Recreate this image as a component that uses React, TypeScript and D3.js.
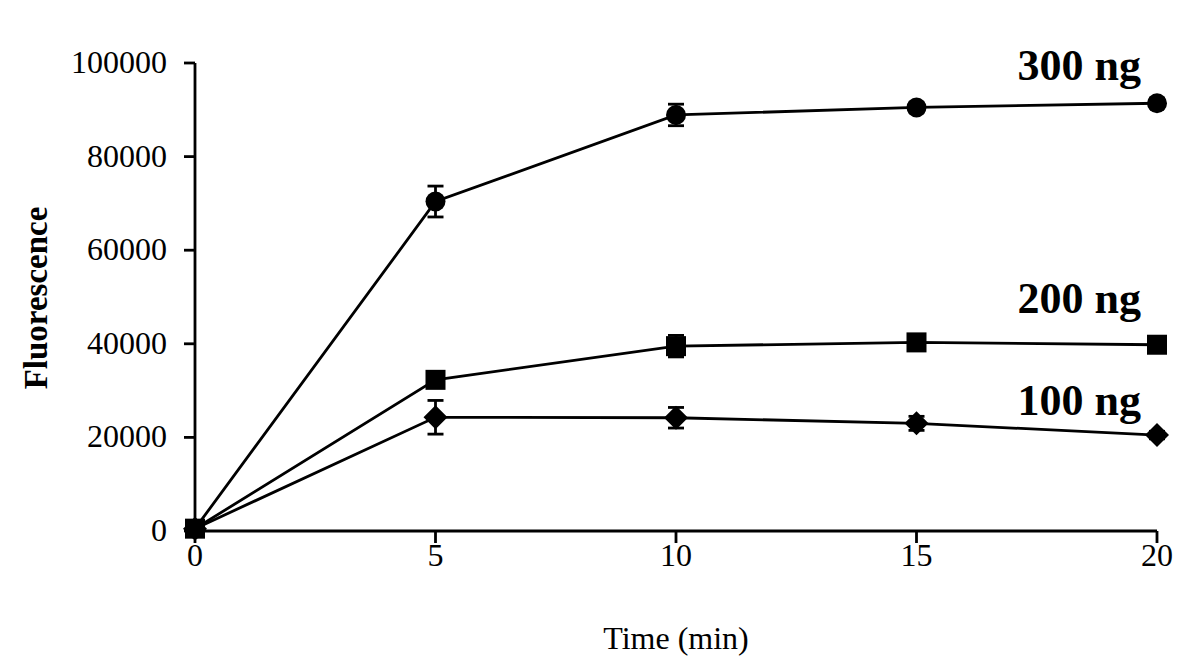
import React from "react";
import * as d3 from "d3";

const times = [0, 5, 10, 15, 20];
const s300 = [500, 70400, 88900, 90500, 91400];
const e300 = [0, 3300, 2300, 1000, 1000];
const s200 = [500, 32300, 39500, 40300, 39800];
const e200 = [0, 800, 2300, 800, 800];
const s100 = [500, 24300, 24200, 23000, 20500];
const e100 = [0, 3600, 2200, 1500, 800];
const yTicks = [0, 20000, 40000, 60000, 80000, 100000];
const xTicks = [0, 5, 10, 15, 20];
const labels = ["300 ng", "200 ng", "100 ng"];

const W = 1200, H = 672;
const x = d3.scaleLinear().domain([0, 20]).range([195, 1157]);
const y = d3.scaleLinear().domain([0, 100000]).range([531, 63]);
const font = "'Liberation Serif', 'Times New Roman', serif";

type Shape = "circle" | "square" | "diamond";

function Series({ vals, errs, shape }: { vals: number[]; errs: number[]; shape: Shape }) {
  const line = d3.line<number>().x((_, i) => x(times[i])).y((d) => y(d));
  return (
    <g>
      <path d={line(vals) || ""} fill="none" stroke="#000" strokeWidth={2.8} />
      {vals.map((v, i) => {
        const cx = x(times[i]);
        const e = errs[i];
        if (!e) return null;
        const y1 = y(v + e), y2 = y(v - e);
        return (
          <g key={"e" + i} stroke="#000" strokeWidth={2.8}>
            <line x1={cx} x2={cx} y1={y1} y2={y2} />
            <line x1={cx - 8} x2={cx + 8} y1={y1} y2={y1} />
            <line x1={cx - 8} x2={cx + 8} y1={y2} y2={y2} />
          </g>
        );
      })}
      {vals.map((v, i) => {
        const cx = x(times[i]);
        const cy = y(v);
        if (shape === "circle") return <circle key={i} cx={cx} cy={cy} r={10} fill="#000" />;
        if (shape === "square") return <rect key={i} x={cx - 10} y={cy - 10} width={20} height={20} fill="#000" />;
        const s = 12;
        return <path key={i} d={`M${cx},${cy - s}L${cx + s},${cy}L${cx},${cy + s}L${cx - s},${cy}Z`} fill="#000" />;
      })}
    </g>
  );
}

export default function App() {
  return (
    <svg width={W} height={H} style={{ position: "absolute", left: 0, top: 0, background: "#fff" }} fontFamily={font}>
      <rect width={W} height={H} fill="#fff" />
      {/* y axis */}
      <line x1={x(0)} x2={x(0)} y1={y(100000)} y2={y(0)} stroke="#000" strokeWidth={2.8} />
      {yTicks.map((t) => (
        <g key={t}>
          <line x1={x(0) - 11} x2={x(0)} y1={y(t)} y2={y(t)} stroke="#000" strokeWidth={2.8} />
          <text x={167} y={y(t) + 10} textAnchor="end" fontSize={32}>{t}</text>
        </g>
      ))}
      {/* x axis */}
      <line x1={x(0)} x2={x(20)} y1={y(0)} y2={y(0)} stroke="#000" strokeWidth={2.8} />
      {xTicks.map((t) => (
        <g key={t}>
          <line x1={x(t)} x2={x(t)} y1={y(0)} y2={y(0) + 12} stroke="#000" strokeWidth={2.8} />
          <text x={x(t)} y={566} textAnchor="middle" fontSize={32}>{t}</text>
        </g>
      ))}
      <text x={676} y={649} textAnchor="middle" fontSize={32}>Time (min)</text>
      <text transform="translate(47,298) rotate(-90)" textAnchor="middle" fontSize={33} fontWeight="bold">Fluorescence</text>

      <Series vals={s100} errs={e100} shape="diamond" />
      <Series vals={s200} errs={e200} shape="square" />
      <Series vals={s300} errs={e300} shape="circle" />

      <text x={1141} y={80} textAnchor="end" fontSize={44} fontWeight="bold">{labels[0]}</text>
      <text x={1141} y={313} textAnchor="end" fontSize={44} fontWeight="bold">{labels[1]}</text>
      <text x={1141} y={415} textAnchor="end" fontSize={44} fontWeight="bold">{labels[2]}</text>
    </svg>
  );
}
